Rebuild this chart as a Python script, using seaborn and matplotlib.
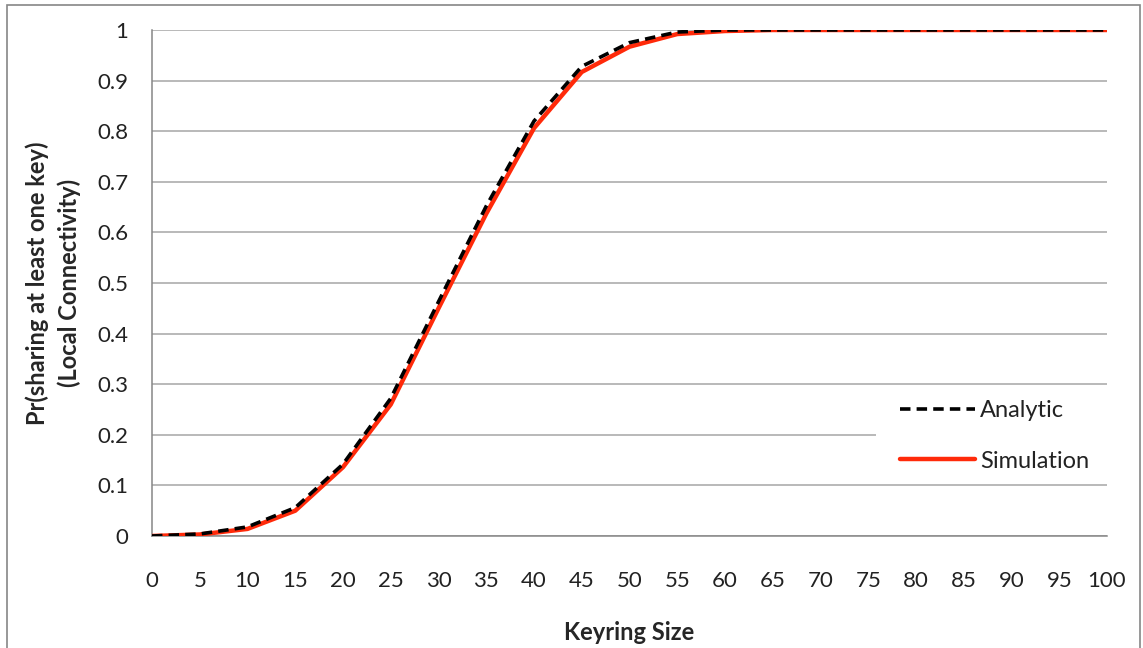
import matplotlib
matplotlib.use("Agg")
import matplotlib.pyplot as plt
import seaborn as sns
from matplotlib.patches import Rectangle

keyring_size = [0, 5, 10, 15, 20, 25, 30, 35, 40, 45, 50, 55, 60, 65, 70, 75, 80, 85, 90, 95, 100]
analytic = [0.0, 0.004, 0.018, 0.056, 0.142, 0.272, 0.463, 0.652, 0.820, 0.928, 0.975, 0.996, 1.0,
            1.0, 1.0, 1.0, 1.0, 1.0, 1.0, 1.0, 1.0]
simulation = [0.0, 0.003, 0.014, 0.050, 0.136, 0.260, 0.450, 0.637, 0.806, 0.917, 0.967, 0.992, 0.998,
              1.0, 1.0, 1.0, 1.0, 1.0, 1.0, 1.0, 1.0]
y_ticks = [0, 0.1, 0.2, 0.3, 0.4, 0.5, 0.6, 0.7, 0.8, 0.9, 1]
y_tick_labels = ["0", "0.1", "0.2", "0.3", "0.4", "0.5", "0.6", "0.7", "0.8", "0.9", "1"]

sns.set_style("white")
plt.rcParams["font.family"] = ["Lato", "DejaVu Sans"]
tick_fs = 16
label_fs = 17

fig = plt.figure(figsize=(11.43, 6.48), dpi=100)
ax = fig.add_axes([152 / 1143, 1 - 536 / 648, 955 / 1143, 506 / 648])

sns.lineplot(x=keyring_size, y=analytic, ax=ax, color="black", lw=2.6,
             dashes=False, label="Analytic", zorder=4)
ax.lines[-1].set_dashes([2.9, 1.7])
sns.lineplot(x=keyring_size, y=simulation, ax=ax, color="#ff2a0a", lw=3.2,
             label="Simulation", zorder=3)

ax.set_xlim(0, 100)
ax.set_ylim(0, 1)
ax.set_xticks(keyring_size)
ax.set_xticklabels([str(v) for v in keyring_size], fontsize=tick_fs, color="#222222")
ax.set_yticks(y_ticks)
ax.set_yticklabels(y_tick_labels, fontsize=tick_fs, color="#222222")
ax.yaxis.grid(True, color="#a6a6a6", lw=1.1)
ax.set_axisbelow(True)
for s in ["top", "right"]:
    ax.spines[s].set_visible(False)
for s in ["left", "bottom"]:
    ax.spines[s].set_color("#868686")
    ax.spines[s].set_linewidth(1.1)
ax.tick_params(axis="x", direction="out", length=6, width=1, color="#868686", pad=19)
ax.tick_params(axis="y", direction="out", length=6, width=1, color="#868686", pad=11)

ax.set_xlabel("Keyring Size", fontsize=label_fs, fontweight="bold", labelpad=22)
ax.set_ylabel("Pr(sharing at least one key)\n(Local Connectivity)", fontsize=label_fs,
              fontweight="bold", labelpad=12, linespacing=1.4)

# white block behind the legend (hides the 0.2 gridline like the original)
ax.add_patch(Rectangle((0.758, 0.13), 0.242, 0.14, transform=ax.transAxes,
                       facecolor="white", edgecolor="none", zorder=2))

leg = ax.legend(loc="center left", bbox_to_anchor=(0.783, 0.198), frameon=False,
                fontsize=17, handlelength=3.2, labelspacing=1.25, handletextpad=0.2,
                borderpad=0, borderaxespad=0)
for t in leg.get_texts():
    t.set_color("#222222")

fig.patches.append(Rectangle((7 / 1143, -0.1), 1133 / 1143, 1.1 - 5 / 648,
                             transform=fig.transFigure, fill=False,
                             edgecolor="#868686", lw=1.2))

fig.savefig("out.png", dpi=100)
plt.close(fig)
